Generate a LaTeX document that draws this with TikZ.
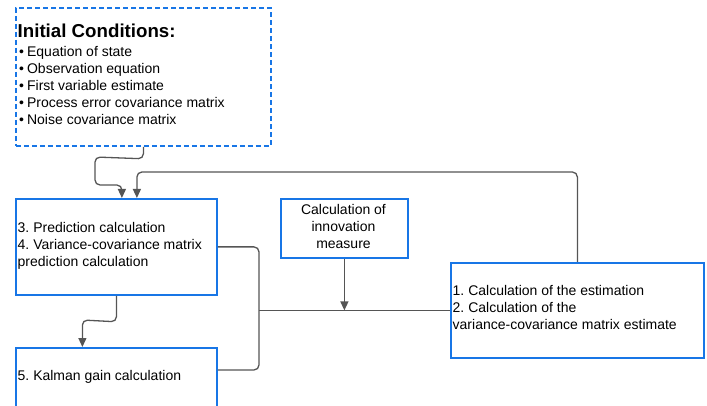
\documentclass[tikz,border=0pt]{standalone}
\usepackage{fontspec}
\setmainfont{Liberation Sans}
\usetikzlibrary{arrows.meta,calc}
\definecolor{boxblue}{RGB}{24,118,230}
\definecolor{linegray}{RGB}{85,85,85}
\frenchspacing
\begin{document}
\begin{tikzpicture}[x=1pt,y=-1pt,
  box/.style={draw=boxblue,line width=1.8pt,fill=white,rectangle,inner sep=0pt},
  txt/.style={font=\fontsize{14}{17}\selectfont\frenchspacing,inner sep=0pt,text=black},
  conn/.style={draw=linegray,line width=1.3pt,rounded corners=5pt},
  arr/.style={conn,-{Triangle[length=9pt,width=8pt]}}]
\useasboundingbox (0,0) rectangle (707,406);
% boxes
\node[box,dashed,dash pattern=on 5pt off 3pt,anchor=north west,minimum width=255pt,minimum height=138pt] (init) at (15,7) {};
\node[box,anchor=north west,minimum width=201pt,minimum height=96pt] (pred) at (15,198) {};
\node[box,anchor=north west,minimum width=127pt,minimum height=59pt] (inn) at (280,198) {};
\node[box,anchor=north west,minimum width=253pt,minimum height=95pt] (est) at (450,262) {};
\node[box,anchor=north west,minimum width=201pt,minimum height=80pt] (kal) at (15,347) {};
% texts (base anchor = baseline of the last line)
\node[txt,font=\fontsize{18.7}{20}\selectfont\bfseries,anchor=base west] (initt) at (17.5,38) {Initial Conditions:};
\node[txt,anchor=base west,align=left] (initl) at (19,124.5)
 {\textbullet\hspace{3pt}Equation of state\\
  \textbullet\hspace{3pt}Observation equation\\
  \textbullet\hspace{3pt}First variable estimate\\
  \textbullet\hspace{3pt}Process error covariance matrix\\
  \textbullet\hspace{3pt}Noise covariance matrix};
\node[txt,anchor=base west,align=left] (predt) at (17.5,266)
 {3. Prediction calculation\\4. Variance-covariance matrix\\prediction calculation};
\node[txt,anchor=base,align=center] (innt) at (343.5,248.5)
 {Calculation of\\innovation\\measure};
\node[txt,anchor=base west,align=left] (estt) at (452.5,329.5)
 {1. Calculation of the estimation\\2. Calculation of the\\variance-covariance matrix estimate};
\node[txt,anchor=base west] (kalt) at (17.5,380) {5. Kalman gain calculation};
% connectors
\coordinate (kin) at ([yshift=-23]kal.north east);
\coordinate (j) at (259,0);
\draw[arr] (init.south) -- ++(0,12) -- (95,157) -- (95,185) -- ([xshift=5.5pt]pred.north |- 0,185) -- ([xshift=5.5pt]pred.north);
\draw[arr] (est.north) -- (est.north |- 0,172) -- ([xshift=20.5pt]pred.north |- 0,172) -- ([xshift=20.5pt]pred.north);
\draw[conn] (pred.east) -- (pred.east -| j) -- (kin -| j) -- (kin);
\draw[conn] (j |- est.west) -- (est.west);
\draw[arr] (inn.south) -- (inn.south |- est.west);
\draw[arr] (pred.south) -- ++(0,26) -- ([xshift=-34pt]pred.south |- 0,320) -- ([xshift=-34pt]kal.north);
\end{tikzpicture}
\end{document}
